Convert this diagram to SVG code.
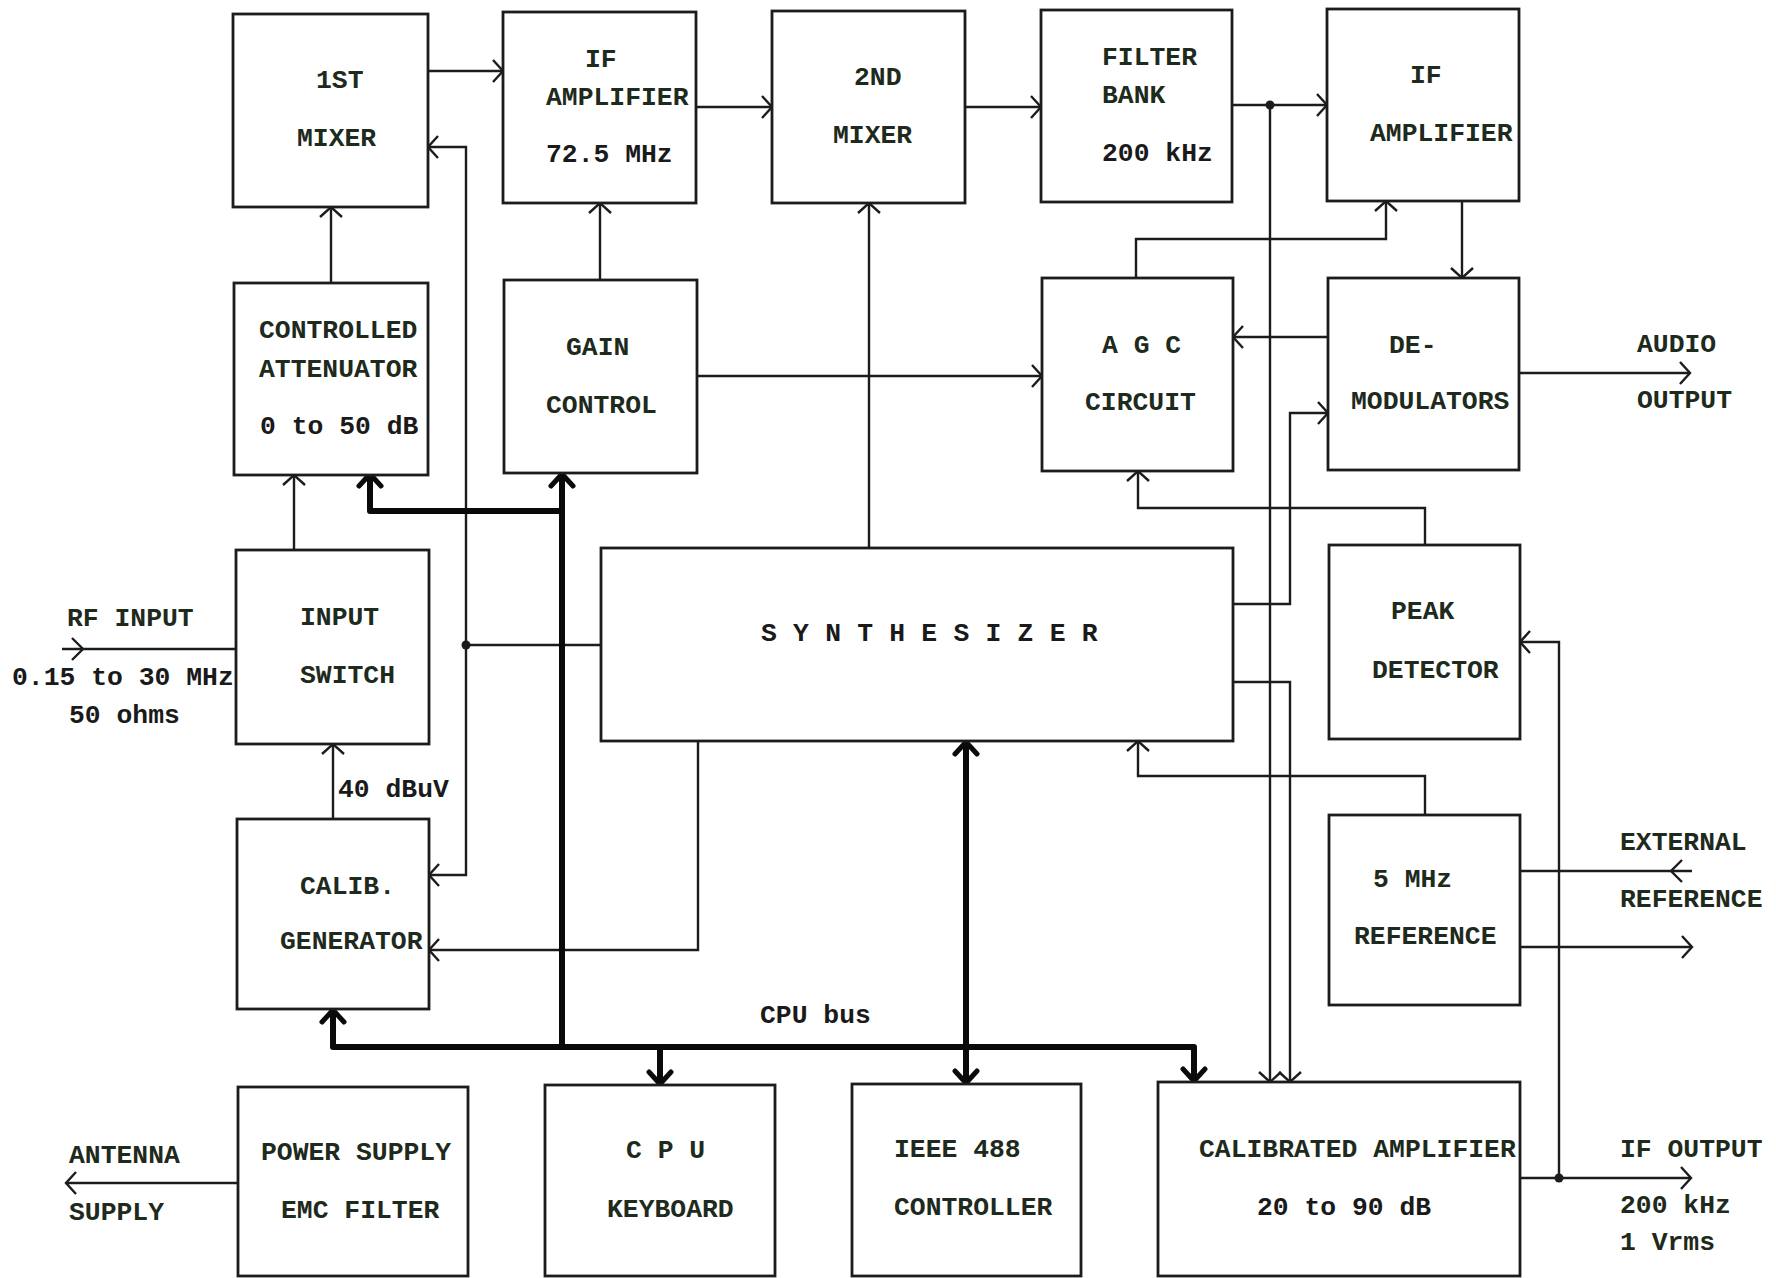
<svg xmlns="http://www.w3.org/2000/svg" width="1776" height="1278" viewBox="0 0 1776 1278">
  <style>
    .box { fill: #ffffff; stroke: #1c1c1c; stroke-width: 2.8; }
    .wire { fill: none; stroke: #1c1c1c; stroke-width: 2.4; stroke-linejoin: miter; }
    .bus { fill: none; stroke: #0a0a0a; stroke-width: 6; stroke-linejoin: round; stroke-linecap: butt; }
    .dot { fill: #1c1c1c; }
    .head { fill: none; stroke: #1c1c1c; stroke-width: 2.4; }
    text { font-family: "Liberation Mono", "Courier New", monospace; font-size: 26.4px; font-weight: bold; fill: #1d2a1c; }
    .spaced { letter-spacing: 0.2px; fill: #1a1a1a; }
    .plain { fill: #1a1a1a; }
  </style>
  <defs>
    <marker id="arr" viewBox="-12 -13 14 26" refX="0" refY="0" markerWidth="14" markerHeight="26" markerUnits="userSpaceOnUse" orient="auto-start-reverse">
      <path d="M -10 -11 L 0 0 L -10 11" fill="none" stroke="#1c1c1c" stroke-width="2.4"/>
    </marker>
    <marker id="barr" viewBox="-18 -16 20 32" refX="0" refY="0" markerWidth="20" markerHeight="32" markerUnits="userSpaceOnUse" orient="auto-start-reverse">
      <path d="M -13 -11 L -1 0 L -13 11" fill="none" stroke="#0a0a0a" stroke-width="5" stroke-linecap="round" stroke-linejoin="round"/>
    </marker>
  </defs>

  <rect width="1776" height="1278" fill="#ffffff"/>

  <!-- signal wiring -->
  <g id="connectors">
    <path class="wire" d="M428 71 H503" marker-end="url(#arr)"/>
    <path class="wire" d="M696 107 H772" marker-end="url(#arr)"/>
    <path class="wire" d="M965 107 H1041" marker-end="url(#arr)"/>
    <path class="wire" d="M1232 105 H1327" marker-end="url(#arr)"/>
    <circle class="dot" cx="1270" cy="105" r="4.5"/>
    <path class="wire" d="M1270 105 V1082" marker-end="url(#arr)"/>
    <path class="wire" d="M1462 201 V278" marker-end="url(#arr)"/>
    <path class="wire" d="M1136 278 V239 H1386 V201" marker-end="url(#arr)"/>
    <path class="wire" d="M1328 337 H1233" marker-end="url(#arr)"/>
    <path class="wire" d="M697 376 H1042" marker-end="url(#arr)"/>
    <path class="wire" d="M1519 373 H1690" marker-end="url(#arr)"/>
    <path class="wire" d="M331 283 V207" marker-end="url(#arr)"/>
    <path class="wire" d="M600 280 V203" marker-end="url(#arr)"/>
    <path class="wire" d="M869 548 V203" marker-end="url(#arr)"/>
    <path class="wire" d="M294 550 V475" marker-end="url(#arr)"/>
    <path class="wire" d="M333 819 V744" marker-end="url(#arr)"/>

    <!-- RF input -->
    <path class="wire" d="M62 649 H236"/>
    <path class="head" d="M72 638 L83 649 L72 660"/>

    <!-- synthesizer to 1st mixer and calibration generator -->
    <path class="wire" d="M601 645 H466"/>
    <circle class="dot" cx="466" cy="645" r="4.5"/>
    <path class="wire" d="M466 645 V147 H428" marker-end="url(#arr)"/>
    <path class="wire" d="M466 645 V875 H429" marker-end="url(#arr)"/>
    <path class="wire" d="M698 741 V950 H429" marker-end="url(#arr)"/>

    <!-- synthesizer right-hand outputs -->
    <path class="wire" d="M1233 604 H1290 V413 H1328" marker-end="url(#arr)"/>
    <path class="wire" d="M1233 682 H1290 V1082" marker-end="url(#arr)"/>

    <!-- peak detector and reference feedback -->
    <path class="wire" d="M1425 545 V508 H1138 V471" marker-end="url(#arr)"/>
    <path class="wire" d="M1425 815 V776 H1138 V741" marker-end="url(#arr)"/>

    <!-- external reference -->
    <path class="wire" d="M1520 871 H1692"/>
    <path class="head" d="M1682 860 L1671 871 L1682 882"/>
    <path class="wire" d="M1520 947 H1692" marker-end="url(#arr)"/>

    <!-- IF output -->
    <path class="wire" d="M1520 1178 H1691" marker-end="url(#arr)"/>
    <circle class="dot" cx="1559" cy="1178" r="4.5"/>
    <path class="wire" d="M1559 1178 V642 H1520" marker-end="url(#arr)"/>

    <!-- antenna supply -->
    <path class="wire" d="M238 1183 H66" marker-end="url(#arr)"/>

    <!-- CPU bus -->
    <path class="bus" d="M370 473 V511 H562" marker-start="url(#barr)"/>
    <path class="bus" d="M562 473 V1047" marker-start="url(#barr)"/>
    <path class="bus" d="M333 1009 V1047 H1194 V1082" marker-start="url(#barr)" marker-end="url(#barr)"/>
    <path class="bus" d="M660 1047 V1085" marker-end="url(#barr)"/>
    <path class="bus" d="M966 741 V1084" marker-start="url(#barr)" marker-end="url(#barr)"/>
  </g>

  <!-- free labels -->
  <g id="labels">
    <text x="67" y="626">RF INPUT</text>
    <text x="12" y="685" class="plain">0.15 to 30 MHz</text>
    <text x="69" y="723" class="plain">50 ohms</text>
    <text x="338" y="797" class="plain">40 dBuV</text>
    <text x="760" y="1023" class="plain">CPU bus</text>
    <text x="1637" y="352">AUDIO</text>
    <text x="1637" y="408">OUTPUT</text>
    <text x="1620" y="850">EXTERNAL</text>
    <text x="1620" y="907">REFERENCE</text>
    <text x="69" y="1163">ANTENNA</text>
    <text x="69" y="1220">SUPPLY</text>
    <text x="1620" y="1157">IF OUTPUT</text>
    <text x="1620" y="1213">200 kHz</text>
    <text x="1620" y="1250">1 Vrms</text>
  </g>

  <g id="mixer1">
    <rect class="box" x="233" y="14" width="195" height="193"/>
    <text x="316" y="88">1ST</text>
    <text x="297" y="146">MIXER</text>
  </g>
  <g id="if-amp1">
    <rect class="box" x="503" y="12" width="193" height="191"/>
    <text x="585" y="67">IF</text>
    <text x="546" y="105">AMPLIFIER</text>
    <text x="546" y="162" class="plain">72.5 MHz</text>
  </g>
  <g id="mixer2">
    <rect class="box" x="772" y="11" width="193" height="192"/>
    <text x="854" y="85">2ND</text>
    <text x="833" y="143">MIXER</text>
  </g>
  <g id="filter-bank">
    <rect class="box" x="1041" y="10" width="191" height="192"/>
    <text x="1102" y="65">FILTER</text>
    <text x="1102" y="103">BANK</text>
    <text x="1102" y="161" class="plain">200 kHz</text>
  </g>
  <g id="if-amp2">
    <rect class="box" x="1327" y="9" width="192" height="192"/>
    <text x="1410" y="83">IF</text>
    <text x="1370" y="141">AMPLIFIER</text>
  </g>
  <g id="attenuator">
    <rect class="box" x="234" y="283" width="194" height="192"/>
    <text x="259" y="338">CONTROLLED</text>
    <text x="259" y="377">ATTENUATOR</text>
    <text x="260" y="434" class="plain">0 to 50 dB</text>
  </g>
  <g id="gain-control">
    <rect class="box" x="504" y="280" width="193" height="193"/>
    <text x="566" y="355">GAIN</text>
    <text x="546" y="413">CONTROL</text>
  </g>
  <g id="agc">
    <rect class="box" x="1042" y="278" width="191" height="193"/>
    <text x="1102" y="353">A G C</text>
    <text x="1085" y="410">CIRCUIT</text>
  </g>
  <g id="demodulators">
    <rect class="box" x="1328" y="278" width="191" height="192"/>
    <text x="1389" y="353">DE-</text>
    <text x="1351" y="409">MODULATORS</text>
  </g>
  <g id="input-switch">
    <rect class="box" x="236" y="550" width="193" height="194"/>
    <text x="300" y="625">INPUT</text>
    <text x="300" y="683">SWITCH</text>
  </g>
  <g id="synthesizer">
    <rect class="box" x="601" y="548" width="632" height="193"/>
    <text x="761" y="641" class="spaced">S Y N T H E S I Z E R</text>
  </g>
  <g id="peak-detector">
    <rect class="box" x="1329" y="545" width="191" height="194"/>
    <text x="1391" y="619">PEAK</text>
    <text x="1372" y="678">DETECTOR</text>
  </g>
  <g id="calib-generator">
    <rect class="box" x="237" y="819" width="192" height="190"/>
    <text x="300" y="894">CALIB.</text>
    <text x="280" y="949">GENERATOR</text>
  </g>
  <g id="reference">
    <rect class="box" x="1329" y="815" width="191" height="190"/>
    <text x="1373" y="887">5 MHz</text>
    <text x="1354" y="944">REFERENCE</text>
  </g>
  <g id="power-supply">
    <rect class="box" x="238" y="1087" width="230" height="189"/>
    <text x="261" y="1160">POWER SUPPLY</text>
    <text x="281" y="1218">EMC FILTER</text>
  </g>
  <g id="cpu">
    <rect class="box" x="545" y="1085" width="230" height="191"/>
    <text x="626" y="1158">C P U</text>
    <text x="607" y="1217">KEYBOARD</text>
  </g>
  <g id="ieee488">
    <rect class="box" x="852" y="1084" width="229" height="192"/>
    <text x="894" y="1157">IEEE 488</text>
    <text x="894" y="1215">CONTROLLER</text>
  </g>
  <g id="calibrated-amplifier">
    <rect class="box" x="1158" y="1082" width="362" height="194"/>
    <text x="1199" y="1157">CALIBRATED AMPLIFIER</text>
    <text x="1257" y="1215" class="plain">20 to 90 dB</text>
  </g>
</svg>
